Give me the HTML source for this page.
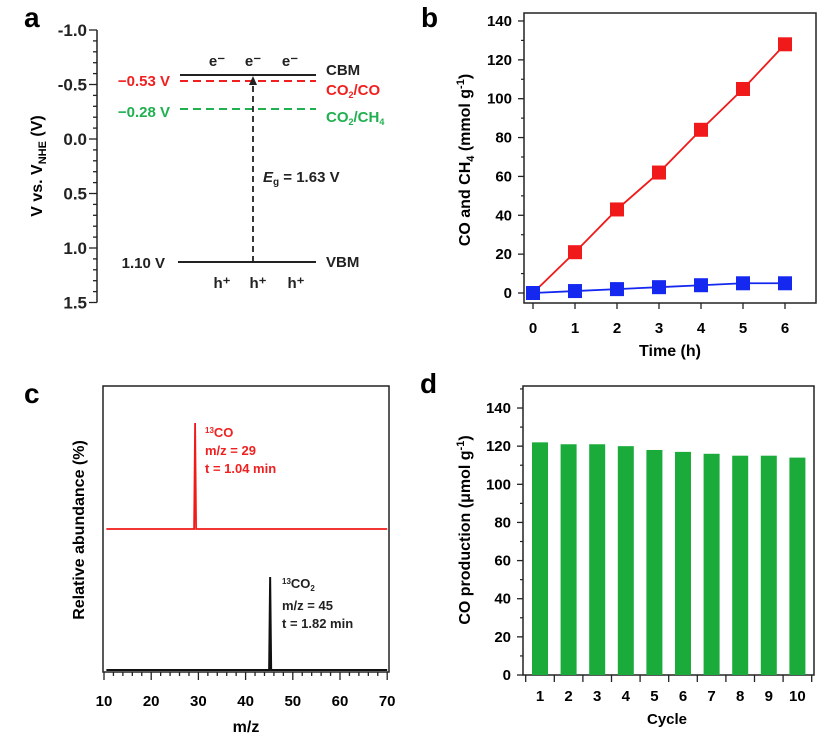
<!DOCTYPE html>
<html><head><meta charset="utf-8"><style>
body{margin:0;background:#fff;}
svg{display:block;font-family:"Liberation Sans",Arial,sans-serif;font-weight:bold;}
</style></head><body>
<svg id="fig" width="834" height="744" viewBox="0 0 834 744">
<!-- Panel a -->
<g id="pa">
<text x="24" y="27" font-size="28">a</text>
<text transform="translate(42,166) rotate(-90)" text-anchor="middle" font-size="16">V vs. V<tspan font-size="11" dy="4">NHE</tspan><tspan dy="-4"> (V)</tspan></text>
<g id="aAxis"></g>
<line x1="180" x2="316" y1="75" y2="75" stroke="#222" stroke-width="2"/>
<line x1="180" x2="316" y1="81" y2="81" stroke="#f02020" stroke-width="2" stroke-dasharray="8,5"/>
<line x1="180" x2="316" y1="109" y2="109" stroke="#20b050" stroke-width="2" stroke-dasharray="8,5"/>
<line x1="178" x2="316" y1="262" y2="262" stroke="#222" stroke-width="2"/>
<line x1="253" x2="253" y1="262" y2="84" stroke="#222" stroke-width="1.8" stroke-dasharray="6,4"/>
<polygon points="253,76 249,85 257,85" fill="#222"/>
<g font-size="15" fill="#222">
<text x="217" y="66" text-anchor="middle">e⁻</text><text x="253" y="66" text-anchor="middle">e⁻</text><text x="290" y="66" text-anchor="middle">e⁻</text>
<text x="222" y="288" text-anchor="middle">h⁺</text><text x="258" y="288" text-anchor="middle">h⁺</text><text x="296" y="288" text-anchor="middle">h⁺</text>
<text x="326" y="75">CBM</text>
<text x="326" y="267">VBM</text>
<text x="165" y="268" text-anchor="end">1.10 V</text>
<text x="263" y="182"><tspan font-style="italic">E</tspan><tspan font-size="10" dy="3">g</tspan><tspan dy="-3"> = 1.63 V</tspan></text>
</g>
<text x="170" y="86" text-anchor="end" font-size="15" fill="#f02020">−0.53 V</text>
<text x="326" y="95" font-size="15" fill="#f02020">CO<tspan font-size="9" dy="3">2</tspan><tspan dy="-3">/CO</tspan></text>
<text x="170" y="117" text-anchor="end" font-size="15" fill="#20b050">−0.28 V</text>
<text x="326" y="122" font-size="15" fill="#20b050">CO<tspan font-size="9" dy="3">2</tspan><tspan dy="-3">/CH</tspan><tspan font-size="9" dy="3">4</tspan></text>
</g>
<!-- Panel b -->
<g id="pb">
<text x="421" y="27" font-size="28">b</text>
<rect x="524" y="13" width="292" height="290" fill="none" stroke="#222" stroke-width="1.5"/>
<text transform="translate(470,160) rotate(-90)" text-anchor="middle" font-size="16">CO and CH<tspan font-size="11" dy="4">4</tspan><tspan dy="-4"> (mmol g</tspan><tspan font-size="11" dy="-6">-1</tspan><tspan dy="6">)</tspan></text>
<text x="670" y="356" text-anchor="middle" font-size="16">Time (h)</text>
<g id="bAxis"></g><g id="bMarks"></g>
</g>
<!-- Panel c -->
<g id="pc">
<text x="24" y="403" font-size="28">c</text>
<rect x="103" y="386" width="286" height="286" fill="none" stroke="#222" stroke-width="1.5"/>
<text transform="translate(84,530) rotate(-90)" text-anchor="middle" font-size="16">Relative abundance (%)</text>
<text x="246" y="732" text-anchor="middle" font-size="16">m/z</text>
<g id="cAxis"></g><g id="cMarks"></g>
<g font-size="13" fill="#f02020"><text x="205" y="437"><tspan font-size="8" dy="-4">13</tspan><tspan dy="4">CO</tspan></text><text x="205" y="455">m/z = 29</text><text x="205" y="473">t = 1.04 min</text></g>
<g font-size="13" fill="#222"><text x="282" y="588"><tspan font-size="8" dy="-4">13</tspan><tspan dy="4">CO</tspan><tspan font-size="8" dy="3">2</tspan></text><text x="282" y="610">m/z = 45</text><text x="282" y="628">t = 1.82 min</text></g>
</g>
<!-- Panel d -->
<g id="pd">
<text x="420" y="393" font-size="28">d</text>
<rect x="523" y="386" width="291" height="289" fill="none" stroke="#222" stroke-width="1.5"/>
<text transform="translate(470,530) rotate(-90)" text-anchor="middle" font-size="16">CO production  (μmol g<tspan font-size="11" dy="-6">-1</tspan><tspan dy="6">)</tspan></text>
<text x="667" y="724" text-anchor="middle" font-size="15">Cycle</text>
<g id="dAxis"></g><g id="dMarks"></g>
</g>
</svg>
<script>
const NS="http://www.w3.org/2000/svg";
function mk(p,t,a,txt){const e=document.createElementNS(NS,t);for(const k in a)e.setAttribute(k,a[k]);if(txt!==undefined)e.textContent=txt;p.appendChild(e);return e;}
// Panel a data
const aTicks=[-1.0,-0.5,0.0,0.5,1.0,1.5];
const aTickLabels=["-1.0","-0.5","0.0","0.5","1.0","1.5"];
const ya=v=>139+v*109;
const aG=document.getElementById('aAxis');
mk(aG,'line',{x1:97,x2:97,y1:ya(-1),y2:ya(1.5),stroke:'#222','stroke-width':1.5});
for(let i=0;i<=25;i++){const v=-1+i*0.1;const maj=i%5===0;mk(aG,'line',{x1:maj?89:93,x2:97,y1:ya(v),y2:ya(v),stroke:'#222','stroke-width':1.3});}
aTicks.forEach((v,i)=>{const t=mk(aG,'text',{x:87,y:ya(v)+6,'text-anchor':'end','font-size':17,fill:'#222'},aTickLabels[i]);

});
// Panel b data
const bTimes=[0,1,2,3,4,5,6];
const bCO=[0,21,43,62,84,105,128];
const bCH4=[0,1,2,3,4,5,5];
const bYTicks=[0,20,40,60,80,100,120,140];
const xb=t=>533+t*42, yb=v=>293-v*1.943;
const bA=document.getElementById('bAxis');
bYTicks.forEach(v=>{mk(bA,'line',{x1:518,x2:524,y1:yb(v),y2:yb(v),stroke:'#222','stroke-width':1.3});
const t=mk(bA,'text',{x:512,y:yb(v)+5,'text-anchor':'end','font-size':15},String(v));


if(v<140)mk(bA,'line',{x1:521,x2:524,y1:yb(v+10),y2:yb(v+10),stroke:'#222','stroke-width':1.2});});
bTimes.forEach(t0=>{mk(bA,'line',{x1:xb(t0),x2:xb(t0),y1:303,y2:309,stroke:'#222','stroke-width':1.3});
const t=mk(bA,'text',{x:xb(t0),y:333,'text-anchor':'middle','font-size':15},String(t0));

});
const bM=document.getElementById('bMarks');
[[bCO,'#f01a1a','co'],[bCH4,'#1428f0','ch4']].forEach(([s,c,n])=>{
const pl=mk(bM,'polyline',{points:s.map((v,i)=>xb(bTimes[i])+','+yb(v)).join(' '),fill:'none',stroke:c,'stroke-width':1.8});


s.forEach((v,i)=>{const r=mk(bM,'rect',{x:xb(bTimes[i])-7,y:yb(v)-7,width:14,height:14,fill:c});

});});
// Panel c data
const cXTicks=[10,20,30,40,50,60,70];
const cPeaks=[29.3,45.2];
const cPeakHeights=[106,93];
const cBaselines=[529,670];
const xc=m=>104+(m-10)*4.72;
const cA=document.getElementById('cAxis');
for(let m=10;m<=70;m+=2){const maj=m%10===0;mk(cA,'line',{x1:xc(m),x2:xc(m),y1:672,y2:maj?680:676,stroke:'#222','stroke-width':1.3});}
cXTicks.forEach(m=>{const t=mk(cA,'text',{x:xc(m),y:706,'text-anchor':'middle','font-size':15},String(m));

});
const cM=document.getElementById('cMarks');
['#f01a1a','#111'].forEach((c,i)=>{const b=cBaselines[i],p=xc(cPeaks[i]);
const pl=mk(cM,'polyline',{points:`${xc(10.5)},${b} ${p-1},${b} ${p},${b-cPeakHeights[i]} ${p+1},${b} ${xc(70)},${b}`,fill:'none',stroke:c,'stroke-width':i?2:1.8});

});
// Panel d data
const dCycles=[1,2,3,4,5,6,7,8,9,10];
const dValues=[122,121,121,120,118,117,116,115,115,114];
const dYTicks=[0,20,40,60,80,100,120,140];
const xd=c=>540+(c-1)*28.6, yd=v=>675-v*1.907;
const dA=document.getElementById('dAxis');
dYTicks.forEach(v=>{mk(dA,'line',{x1:517,x2:523,y1:yd(v),y2:yd(v),stroke:'#222','stroke-width':1.3});
const t=mk(dA,'text',{x:511,y:yd(v)+5,'text-anchor':'end','font-size':15},String(v));


mk(dA,'line',{x1:520,x2:523,y1:yd(v+10),y2:yd(v+10),stroke:'#222','stroke-width':1.2});});
const dM=document.getElementById('dMarks');
dCycles.forEach((c,i)=>{mk(dA,'line',{x1:xd(c)-14.3,x2:xd(c)-14.3,y1:675,y2:682,stroke:'#222','stroke-width':1.3});
const t=mk(dA,'text',{x:xd(c),y:701,'text-anchor':'middle','font-size':15},String(c));


const r=mk(dM,'rect',{x:xd(c)-8,y:yd(dValues[i]),width:16,height:675-yd(dValues[i]),fill:'#1aab3a'});

});
mk(dA,'line',{x1:xd(10)+14.3,x2:xd(10)+14.3,y1:675,y2:682,stroke:'#222','stroke-width':1.3});
</script>
</body></html>
